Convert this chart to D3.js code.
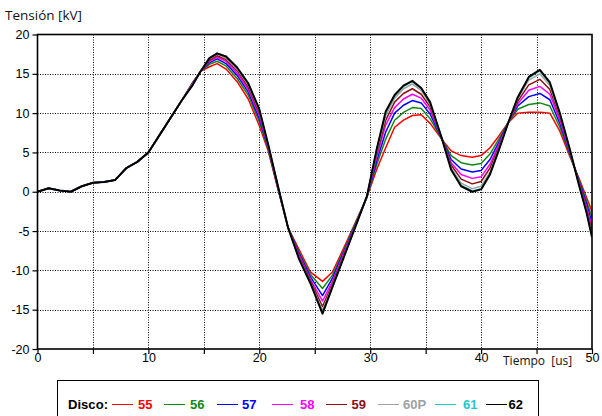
<!DOCTYPE html>
<html><head><meta charset="utf-8">
<script src="https://cdn.jsdelivr.net/npm/d3@7"></script>
<style>body{margin:0;background:#fff}svg{display:block}</style>
</head><body><svg id="c" width="602" height="416"></svg>
<script>
// ---- data ----
const times = [0,1,2,3,4,5,6,7,8,9,10,11,12,13,
  14,14.7,15.5,16.2,17,18,19,20,20.8,21.7,22.6,23.6,24.6,25.7,26.6,27.6,28.6,29.7,30.6,31.4,
  32.2,33,33.8,34.6,35.4,36.5,37.3,38.2,39.2,40,40.8,41.6,42.4,43.3,44.3,45.3,46.2,47.1,48,48.8,49.5,50];
const s55 = [0,0.45,0.15,0.0,0.7,1.15,1.25,1.5,3.0,3.8,5.0,7.2,9.4,11.6,
  13.9,15.3,15.9,16.3,15.6,14.0,11.8,8.4,5.2,0.2,-4.6,-7.4,-10.2,-11.4,-10.2,-7.2,-4.1,-0.7,2.9,5.6,
  8.2,9.1,9.7,9.8,8.7,6.6,5.2,4.6,4.4,4.6,5.6,7.1,8.7,10.0,10.1,10.1,10.0,7.7,4.5,1.8,-0.7,-2.5];
const s56 = [0,0.45,0.15,0.0,0.7,1.15,1.25,1.5,3.0,3.8,5.0,7.2,9.4,11.6,
  13.9,15.3,16.2,16.6,16.0,14.4,12.3,8.9,5.4,0.3,-4.6,-7.7,-10.5,-12.3,-10.6,-7.5,-4.2,-0.7,3.5,6.7,
  9.1,10.1,10.7,10.6,9.3,6.6,4.6,3.7,3.4,3.6,4.8,6.7,8.7,10.5,11.1,11.3,10.9,8.2,4.7,1.6,-1.1,-3.3];
const s57 = [0,0.45,0.15,0.0,0.7,1.15,1.25,1.5,3.0,3.8,5.0,7.2,9.4,11.6,
  13.8,15.3,16.4,16.9,16.3,14.8,12.7,9.3,5.6,0.4,-4.6,-7.9,-10.8,-13.2,-11.0,-7.7,-4.4,-0.7,4.0,7.6,
  10.0,11.0,11.6,11.3,9.9,6.6,4.1,2.9,2.5,2.7,4.1,6.3,8.7,10.9,12.1,12.5,11.7,8.7,4.9,1.5,-1.5,-4.0];
const s58 = [0,0.45,0.15,0.0,0.7,1.15,1.25,1.5,3.0,3.8,5.0,7.2,9.4,11.6,
  13.8,15.3,16.6,17.1,16.6,15.1,13.0,9.7,5.7,0.4,-4.6,-8.1,-11.1,-13.9,-11.4,-7.9,-4.5,-0.6,4.5,8.5,
  10.7,11.8,12.4,11.9,10.4,6.6,3.7,2.2,1.7,1.9,3.5,6.0,8.6,11.2,12.9,13.4,12.4,9.1,5.1,1.3,-1.9,-4.5];
const s59 = [0,0.45,0.15,0.0,0.7,1.15,1.25,1.5,3.0,3.8,5.0,7.2,9.4,11.6,
  13.7,15.3,16.7,17.3,16.8,15.4,13.3,10.0,5.8,0.5,-4.6,-8.3,-11.3,-14.6,-11.7,-8.1,-4.6,-0.6,4.9,9.1,
  11.4,12.5,13.1,12.4,10.8,6.6,3.4,1.6,1.0,1.3,3.0,5.7,8.6,11.5,13.6,14.3,13.0,9.5,5.2,1.2,-2.2,-5.0];
const s60P = [0,0.45,0.15,0.0,0.7,1.15,1.25,1.5,3.0,3.8,5.0,7.2,9.4,11.6,
  13.7,15.3,16.9,17.5,17.0,15.6,13.6,10.3,5.9,0.6,-4.6,-8.5,-11.5,-15.1,-11.9,-8.3,-4.6,-0.6,5.2,9.7,
  11.9,13.1,13.7,12.9,11.1,6.6,3.0,1.1,0.4,0.7,2.5,5.5,8.6,11.8,14.2,15.0,13.5,9.8,5.3,1.1,-2.4,-5.5];
const s61 = [0,0.45,0.15,0.0,0.7,1.15,1.25,1.5,3.0,3.8,5.0,7.2,9.4,11.6,
  13.6,15.3,17.0,17.6,17.2,15.8,13.8,10.5,6.0,0.6,-4.6,-8.6,-11.6,-15.4,-12.1,-8.4,-4.7,-0.6,5.4,10.1,
  12.2,13.4,14.0,13.1,11.3,6.6,2.9,0.8,0.1,0.4,2.3,5.3,8.6,12.0,14.5,15.4,13.8,9.9,5.4,1.0,-2.6,-5.7];
const s62 = [0,0.45,0.15,0.0,0.7,1.15,1.25,1.5,3.0,3.8,5.0,7.2,9.4,11.6,
  13.6,15.3,17.0,17.6,17.2,15.8,13.8,10.5,6.0,0.6,-4.6,-8.6,-11.6,-15.5,-12.1,-8.4,-4.7,-0.6,5.5,10.2,
  12.3,13.5,14.1,13.2,11.4,6.6,2.8,0.7,0.0,0.3,2.2,5.3,8.6,12.0,14.6,15.5,13.9,10.0,5.4,1.0,-2.6,-5.8];
const seriesNames = ["55","56","57","58","59","60P","61","62"];
const seriesValues = [s55,s56,s57,s58,s59,s60P,s61,s62];
const seriesColors = ["#ff0000","#128a12","#0000ff","#ff00ff","#8b1010","#a0a0a0","#1ec8c8","#000000"];
const xTicks = [0,5,10,15,20,25,30,35,40,45,50];
const yTicks = [-20,-15,-10,-5,0,5,10,15,20];
const yTitle = "Tensión [kV]";
const xTitle = "Tiempo  [us]";
const legendTitle = "Disco:";

// ---- layout ----
const legendLineX = [112,164,217,272,326,378,435,486];
const legendLabelX = [138,190,242,300,351.5,403,463,508.5];

// ---- drawing ----
const svg = d3.select("#c");
svg.append("rect").attr("width",602).attr("height",416).attr("fill","#fff");
const L=37.5, R=592, T=34.5, B=349;
const x = d3.scaleLinear().domain([0,50]).range([L,R]);
const y = d3.scaleLinear().domain([-20,20]).range([B,T]);

// grid
const grid = svg.append("g").attr("stroke","#000").attr("stroke-width",1).attr("stroke-dasharray","1,1.5");
grid.selectAll("line.v").data(xTicks.filter(d=>d>0&&d<50)).join("line")
  .attr("x1",d=>Math.round(x(d))+0.5).attr("x2",d=>Math.round(x(d))+0.5).attr("y1",T).attr("y2",B);
grid.selectAll("line.h").data(yTicks.filter(d=>d>-20&&d<20)).join("line")
  .attr("y1",d=>Math.round(y(d))+0.5).attr("y2",d=>Math.round(y(d))+0.5).attr("x1",L).attr("x2",R);

// lines
svg.append("clipPath").attr("id","clip").append("rect").attr("x",L).attr("y",T).attr("width",R-L).attr("height",B-T);
const line = d3.line().x((d,i)=>x(times[i])).y(d=>y(d));
svg.append("g").attr("clip-path","url(#clip)").selectAll("path").data(seriesValues).join("path")
  .attr("d",d=>line(d)).attr("fill","none")
  .attr("stroke",(d,i)=>seriesColors[i]).attr("stroke-width",(d,i)=>i===7?2:1.5)
  .attr("stroke-linejoin","round");

// axes
const fontAx = "Liberation Sans, Arial, sans-serif";
const ax = svg.append("g").attr("transform",`translate(0,${B})`)
  .call(d3.axisBottom(x).tickValues(xTicks).tickSize(5).tickSizeOuter(0).tickPadding(-0.5)
    .tickFormat(d=>d%10===0?String(d):""));
const ay = svg.append("g").attr("transform",`translate(${L},0)`)
  .call(d3.axisLeft(y).tickValues(yTicks).tickSize(5).tickSizeOuter(0).tickPadding(3)
    .tickFormat(d=>String(d)));
[ax,ay].forEach(g=>{
  g.selectAll("text").attr("font-family",fontAx).attr("font-size","12.5px").attr("fill","#000");
  g.selectAll("line").attr("stroke","#000").attr("stroke-width",1.2);
  g.select(".domain").remove();
});
// frame
svg.append("rect").attr("x",L).attr("y",T).attr("width",R-L).attr("height",B-T)
  .attr("fill","none").attr("stroke","#000").attr("stroke-width",1.6);

// titles
svg.append("text").attr("x",5).attr("y",20).attr("font-family","Open Sans, sans-serif").attr("font-weight",400)
  .attr("font-size","13.5px").attr("fill","#111").text(yTitle);
svg.append("text").attr("x",503).attr("y",365).attr("font-family","Open Sans, sans-serif").attr("font-weight",400)
  .attr("font-size","12px").attr("fill","#111").attr("xml:space","preserve").style("white-space","pre").text(xTitle);

// legend
svg.append("rect").attr("x",57.5).attr("y",380.5).attr("width",481).attr("height",60)
  .attr("fill","#fff").attr("stroke","#000").attr("stroke-width",1);
const lg = svg.append("g").attr("font-family",fontAx).attr("font-weight","bold").attr("font-size","13px");
lg.append("text").attr("x",68).attr("y",409).attr("fill","#000")
  .attr("textLength",40).attr("lengthAdjust","spacingAndGlyphs").text(legendTitle);
seriesNames.forEach((n,i)=>{
  lg.append("line").attr("x1",legendLineX[i]).attr("x2",legendLineX[i]+21).attr("y1",404.5).attr("y2",404.5)
    .attr("stroke",seriesColors[i]).attr("stroke-width",1);
  lg.append("text").attr("x",legendLabelX[i]).attr("y",409).attr("fill",seriesColors[i]).text(n);
});
</script></body></html>
